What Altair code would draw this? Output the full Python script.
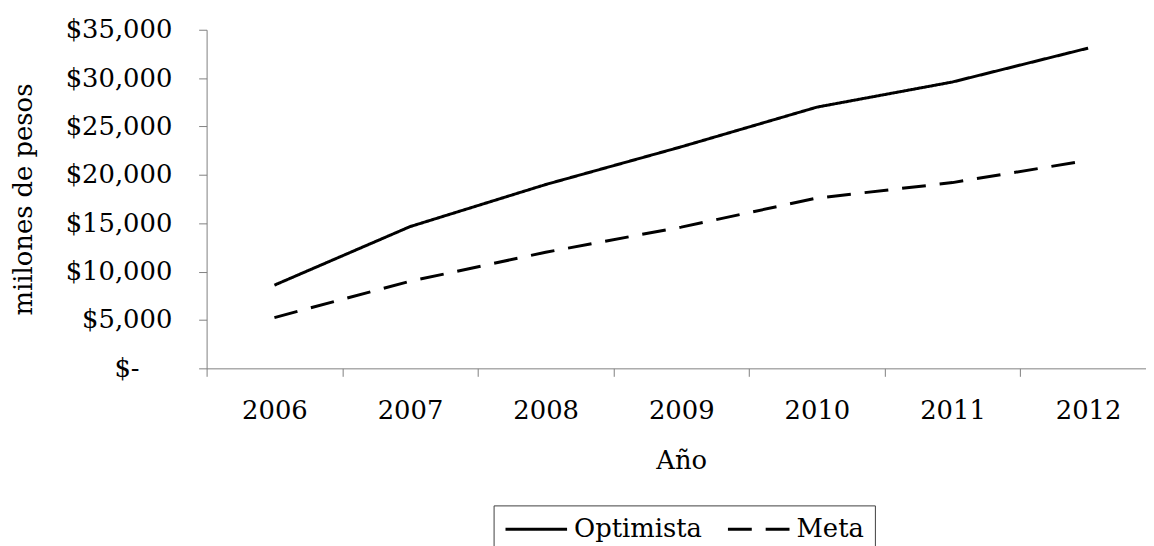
import altair as alt
import pandas as pd

# ---- data ----
years = ["2006", "2007", "2008", "2009", "2010", "2011", "2012"]
optimista = [8600, 14650, 19000, 22900, 27000, 29600, 33100]
meta = [5250, 9000, 12000, 14600, 17600, 19200, 21500]
series_names = ["Optimista", "Meta"]
y_ticks = [0, 5000, 10000, 15000, 20000, 25000, 30000, 35000]

df = pd.DataFrame({
    "anio": years + years,
    "valor": optimista + meta,
    "serie": [series_names[0]] * len(years) + [series_names[1]] * len(years),
})

FONT = "DejaVu Serif"
FS = 26
AXIS_GRAY = "#808080"

label_expr = "datum.value == 0 ? '$-' : '$' + format(datum.value, ',')"

chart = (
    alt.Chart(df)
    .mark_line(strokeWidth=3, color="black")
    .encode(
        x=alt.X(
            "anio:O",
            bandPosition=0.5,
            sort=years,
            scale=alt.Scale(type="band", paddingInner=0, paddingOuter=0),
            axis=alt.Axis(
                title="Año",
                tickBand="extent",
                labelAngle=0,
                labelBaseline="alphabetic",
                labelPadding=43,
                tickSize=8,
                titleY=101,
                titleBaseline="alphabetic",
            ),
        ),
        y=alt.Y(
            "valor:Q",
            scale=alt.Scale(domain=[0, 35000], nice=False),
            axis=alt.Axis(
                values=y_ticks,
                labelExpr=label_expr,
                title="miilones de pesos",
                labelPadding={"condition": {"test": "datum.value == 0", "value": 60}, "value": 27},
                tickSize=8,
                titleX=-176,
                titleY=170.5,
                titleBaseline="alphabetic",
                titleAngle=270,
            ),
        ),
        strokeDash=alt.StrokeDash(
            "serie:N",
            scale=alt.Scale(domain=series_names, range=[[1, 0], [24, 14]]),
            legend=alt.Legend(
                title=None,
                orient="none",
                legendX=289,
                legendY=479,
                direction="horizontal",
                symbolType="M-6,0H25",
                symbolSize=16,
                symbolStrokeWidth=3,
                symbolStrokeColor="black",
                symbolFillColor="transparent",
                labelFont=FONT,
                labelFontSize=FS,
                labelColor="black",
                labelLimit=0,
                labelOffset=44,
                columnPadding=20,
                padding=11,
                strokeColor="#404040",
                fillColor="white",
            ),
        ),
    )
    .properties(
        width=956,
        height=341,
        autosize=alt.AutoSizeParams(type="none"),
        padding={"left": 200, "top": 20, "right": -10, "bottom": 177},
    )
    .configure_view(stroke=None)
    .configure_axis(
        grid=False,
        domainColor=AXIS_GRAY,
        tickColor=AXIS_GRAY,
        labelFont=FONT,
        labelFontSize=FS,
        labelColor="black",
        titleFont=FONT,
        titleFontSize=FS,
        titleFontWeight="normal",
        titleColor="black",
    )
)

chart.save("out.html", embed_options={"renderer": "svg", "actions": False})
